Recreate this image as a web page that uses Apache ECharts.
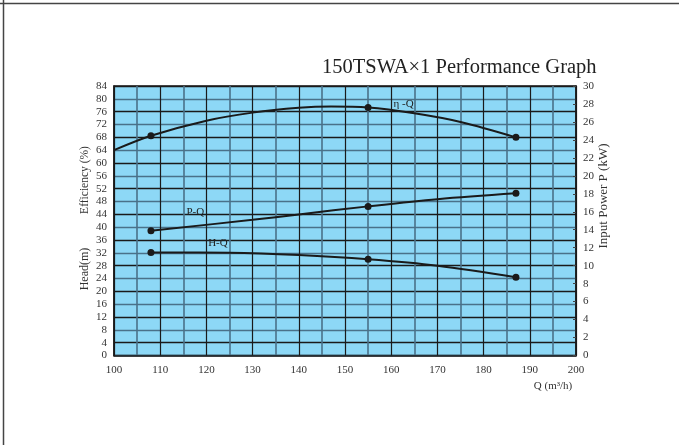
<!DOCTYPE html>
<html>
<head>
<meta charset="utf-8">
<script src="https://cdn.jsdelivr.net/npm/echarts@6/dist/echarts.min.js"></script>
<style>html,body{margin:0;padding:0;background:#fff}#c{width:679px;height:445px}</style>
</head>
<body>
<div id="c"></div>
<script>
// ---- data ----
const measuredQ = [108, 155, 187];
const effQ   = [100, 108, 120, 130, 140, 147, 155, 165, 175, 187];
const effVal = [64, 68.5, 73.2, 75.7, 77.2, 77.6, 77.3, 75.5, 72.8, 68];
const headQ   = [108, 125, 140, 155, 170, 187];
const headVal = [32.1, 32.0, 31.3, 30.0, 28.0, 24.4];
const powQ   = [108, 130, 140, 155, 170, 187];
const powVal = [13.9, 15.1, 15.7, 16.6, 17.4, 18.05];
const curveLabels = [
  {text: 'η -Q', q: 162.7, v: 78.3},
  {text: 'P-Q',  q: 117.6, v: 16.0},
  {text: 'H-Q',  q: 122.5, v: 35.0}
];
const titleText = '150TSWA\u00D71 Performance Graph';

const SERIF = '"Liberation Serif", "DejaVu Serif", serif';
const BLACK = '#1a1a1a';
const GREY = '#4a7189';

function mk(qs, vs) {
  return qs.map((q, i) => measuredQ.includes(q)
    ? {value: [q, vs[i]], symbol: 'circle', symbolSize: 7}
    : {value: [q, vs[i]], symbol: 'none'});
}
function lbl(l) {
  return {coord: [l.q, l.v], label: {show: true, formatter: l.text, fontFamily: SERIF, fontSize: 11, color: '#222'}};
}

const chart = echarts.init(document.getElementById('c'), null, {renderer: 'canvas'});
const lineStyle = {color: BLACK, width: 2};
const option = {
  animation: false,
  backgroundColor: '#fff',
  title: {
    text: titleText, left: 317, top: 52,
    textStyle: {fontFamily: SERIF, fontSize: 20.5, fontWeight: 'normal', color: '#222'}
  },
  grid: {
    left: 114, right: 103, top: 86, bottom: 89.5,
    show: true, backgroundColor: '#8dd8f6', borderColor: BLACK, borderWidth: 1.5
  },
  xAxis: {
    type: 'value', min: 100, max: 200, interval: 10,
    axisLine: {show: true, lineStyle: {color: BLACK, width: 1.5}},
    axisTick: {show: false},
    axisLabel: {fontFamily: SERIF, fontSize: 11, color: '#333', margin: 9},
    splitLine: {show: true, lineStyle: {color: BLACK, width: 1.2}},
    minorTick: {show: false, splitNumber: 2},
    minorSplitLine: {show: true, lineStyle: {color: GREY, width: 1.6}}
  },
  yAxis: [{
    type: 'value', min: 0, max: 84, interval: 4,
    axisLine: {show: true, lineStyle: {color: BLACK, width: 1.5}},
    axisTick: {show: false},
    axisLabel: {fontFamily: SERIF, fontSize: 11, color: '#333', margin: 7},
    splitLine: {show: true, lineStyle: {color: [GREY, BLACK], width: 1.4}}
  }, {
    type: 'value', min: 0, max: 30, interval: 2, position: 'right',
    axisLine: {show: true, lineStyle: {color: BLACK, width: 1.5}},
    axisTick: {show: true, inside: true, length: 3, lineStyle: {color: '#444'}},
    axisLabel: {fontFamily: SERIF, fontSize: 11, color: '#333', margin: 7},
    splitLine: {show: false}
  }],
  series: [{
    type: 'line', name: 'η-Q', yAxisIndex: 0, smooth: 0.35, showAllSymbol: true,
    data: mk(effQ, effVal), lineStyle, itemStyle: {color: BLACK}, z: 5,
    markPoint: {symbol: 'circle', symbolSize: 0, silent: true, data: [lbl(curveLabels[0]), lbl(curveLabels[2])]}
  }, {
    type: 'line', name: 'P-Q', yAxisIndex: 1, smooth: 0.35, showAllSymbol: true,
    data: mk(powQ, powVal), lineStyle, itemStyle: {color: BLACK}, z: 5,
    markPoint: {symbol: 'circle', symbolSize: 0, silent: true, data: [lbl(curveLabels[1])]}
  }, {
    type: 'line', name: 'H-Q', yAxisIndex: 0, smooth: 0.35, showAllSymbol: true,
    data: mk(headQ, headVal), lineStyle, itemStyle: {color: BLACK}, z: 5
  }],
  graphic: [
    {type: 'line', shape: {x1: 0, y1: 3.5, x2: 679, y2: 3.5}, style: {stroke: '#444', lineWidth: 1.5}},
    {type: 'line', shape: {x1: 3.5, y1: 0, x2: 3.5, y2: 445}, style: {stroke: '#444', lineWidth: 1.5}},
    {type: 'text', x: 85, y: 180, rotation: Math.PI / 2, style: {text: 'Efficiency (%)', fontFamily: SERIF, fontSize: 11.5, fill: '#333', align: 'center', verticalAlign: 'middle'}},
    {type: 'text', x: 85, y: 269, rotation: Math.PI / 2, style: {text: 'Head(m)', fontFamily: SERIF, fontSize: 12, fill: '#333', align: 'center', verticalAlign: 'middle'}},
    {type: 'text', x: 604, y: 196, rotation: Math.PI / 2, style: {text: 'Input Power P (kW)', fontFamily: SERIF, fontSize: 13, fill: '#333', align: 'center', verticalAlign: 'middle'}},
    {type: 'text', x: 553, y: 386, style: {text: 'Q (m³/h)', fontFamily: SERIF, fontSize: 11, fill: '#333', align: 'center', verticalAlign: 'middle'}}
  ]
};
chart.setOption(option);
</script>
</body>
</html>
